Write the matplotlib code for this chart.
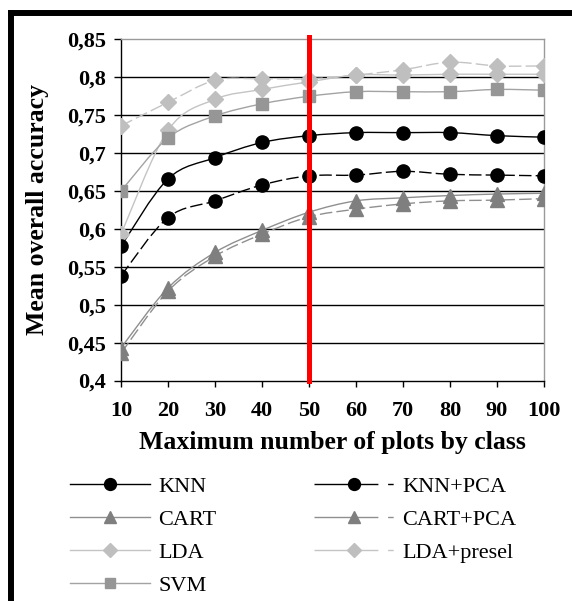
import numpy as np
import matplotlib
matplotlib.use("Agg")
import matplotlib.pyplot as plt
from matplotlib.path import Path
from matplotlib.patches import PathPatch
from matplotlib.lines import Line2D
from matplotlib.ticker import FuncFormatter

# ---------------- data ----------------
plots_by_class = [10, 20, 30, 40, 50, 60, 70, 80, 90, 100]
knn        = [0.577, 0.666, 0.694, 0.714, 0.723, 0.727, 0.727, 0.727, 0.723, 0.721]
knn_pca    = [0.538, 0.615, 0.637, 0.658, 0.670, 0.671, 0.676, 0.672, 0.671, 0.670]
cart       = [0.443, 0.522, 0.569, 0.598, 0.622, 0.637, 0.641, 0.644, 0.646, 0.647]
cart_pca   = [0.436, 0.518, 0.564, 0.593, 0.616, 0.626, 0.633, 0.637, 0.638, 0.640]
lda        = [0.593, 0.730, 0.771, 0.784, 0.794, 0.803, 0.803, 0.804, 0.804, 0.804]
lda_presel = [0.736, 0.767, 0.796, 0.798, 0.798, 0.803, 0.810, 0.820, 0.815, 0.815]
svm        = [0.650, 0.720, 0.749, 0.765, 0.775, 0.781, 0.781, 0.781, 0.784, 0.783]
series_labels = ["KNN", "CART", "LDA", "SVM", "KNN+PCA", "CART+PCA", "LDA+presel"]
threshold_x = 50
y_ticks = [0.4, 0.45, 0.5, 0.55, 0.6, 0.65, 0.7, 0.75, 0.8, 0.85]

SERIF = ["Liberation Serif", "DejaVu Serif"]

fig = plt.figure(figsize=(5.72, 6.01), dpi=100)
ax = fig.add_axes([121/572, 1-380.5/601, 423/572, 341.1/601])


def smooth_path(xs, ys):
    pts = np.column_stack([xs, ys]).astype(float)
    n = len(pts)
    verts = [pts[0]]
    codes = [Path.MOVETO]
    for i in range(n - 1):
        p0 = pts[max(i - 1, 0)]
        p1 = pts[i]
        p2 = pts[i + 1]
        p3 = pts[min(i + 2, n - 1)]
        c1 = p1 + (p2 - p0) / 6.0
        c2 = p2 - (p3 - p1) / 6.0
        verts += [c1, c2, p2]
        codes += [Path.CURVE4] * 3
    return Path(verts, codes)


values = [knn, cart, lda, svm, knn_pca, cart_pca, lda_presel]
styles = [
    # line color, marker, marker color, ms, dashed
    ("black", "o", "black", 9.5, False),
    ("#8f8f8f", "^", "#7f7f7f", 10, False),
    ("#c4c4c4", "D", "#bfbfbf", 8, False),
    ("#a3a3a3", "s", "#969696", 8, False),
    ("black", "o", "black", 9.5, True),
    ("#8f8f8f", "^", "#7f7f7f", 10, True),
    ("#c4c4c4", "D", "#bfbfbf", 8, True),
]

draw_order = [2, 6, 3, 1, 5, 0, 4]
for idx in draw_order:
    vals = values[idx]
    lc, mk, mc, ms, dashed = styles[idx]
    ls = (0, (9, 3)) if dashed else "solid"
    patch = PathPatch(smooth_path(plots_by_class, vals), fill=False,
                      edgecolor=lc, lw=1.0, linestyle=ls, zorder=3)
    ax.add_patch(patch)
    ax.plot(plots_by_class, vals, linestyle="none", marker=mk, color=mc,
            markersize=ms, markeredgecolor=mc, zorder=4)

handles = []
for lc, mk, mc, ms, dashed in styles:
    kw = dict(color=lc, lw=1.0, marker=mk, markersize=ms * 0.9,
              markerfacecolor=mc, markeredgecolor=mc)
    if dashed:
        kw["dashes"] = (46, 7, 4, 200)
    handles.append(Line2D([0], [0], **kw))

ax.axvline(threshold_x, color="#ff0000", lw=3.6, zorder=6, ymax=1.006, clip_on=False)

ax.set_xlim(10, 100)
ax.set_ylim(0.4, 0.85)
ax.set_xticks(plots_by_class)
ax.set_yticks(y_ticks)
ax.yaxis.set_major_formatter(FuncFormatter(lambda v, p: ("%g" % v).replace(".", ",")))

ax.set_axisbelow(True)
ax.yaxis.grid(True, color="black", lw=1.0)
ax.xaxis.grid(False)

for sp in ["top", "right"]:
    ax.spines[sp].set_color("#9a9a9a")
    ax.spines[sp].set_linewidth(1.0)
for sp in ["left", "bottom"]:
    ax.spines[sp].set_color("black")
    ax.spines[sp].set_linewidth(1.0)

ax.tick_params(axis="y", direction="out", length=5, width=1, pad=6)
ax.tick_params(axis="x", direction="out", length=4, width=1, pad=11)
for t in ax.get_xticklabels() + ax.get_yticklabels():
    t.set_fontfamily(SERIF)
    t.set_fontweight("bold")
    t.set_fontsize(16)

ax.set_xlabel("Maximum number of plots by class", fontfamily=SERIF,
              fontweight="bold", fontsize=18.5)
ax.xaxis.set_label_coords(0.5, (380.5 - 442) / 341.1)
ax.xaxis.label.set_va("center")
ax.set_ylabel("Mean overall accuracy", fontfamily=SERIF, fontweight="bold",
              fontsize=18.5)
ax.yaxis.set_label_coords((38 - 121) / 423, 0.5)
ax.yaxis.label.set_va("center")

fig.canvas.draw()
gl = ax.get_ygridlines()
gl[-1].set_visible(False)
gl[0].set_visible(False)

leg = ax.legend(handles, series_labels, ncol=2, loc="upper left",
                bbox_to_anchor=(70 / 572, 1 - 476 / 601),
                bbox_transform=fig.transFigure, frameon=False,
                prop={"family": SERIF, "size": 16},
                handlelength=3.6, handletextpad=0.36, columnspacing=4.4,
                labelspacing=0.57, borderpad=0, borderaxespad=0)

# figure frame (thick black on top and left)
fig.add_artist(Line2D([11 / 572, 11 / 572], [0, 1 - 10 / 601],
                      transform=fig.transFigure, color="black", lw=4.3,
                      solid_capstyle="butt"))
fig.add_artist(Line2D([8 / 572, 1], [1 - 13 / 601, 1 - 13 / 601],
                      transform=fig.transFigure, color="black", lw=4.3,
                      solid_capstyle="butt"))

fig.savefig("out.png", dpi=100)
